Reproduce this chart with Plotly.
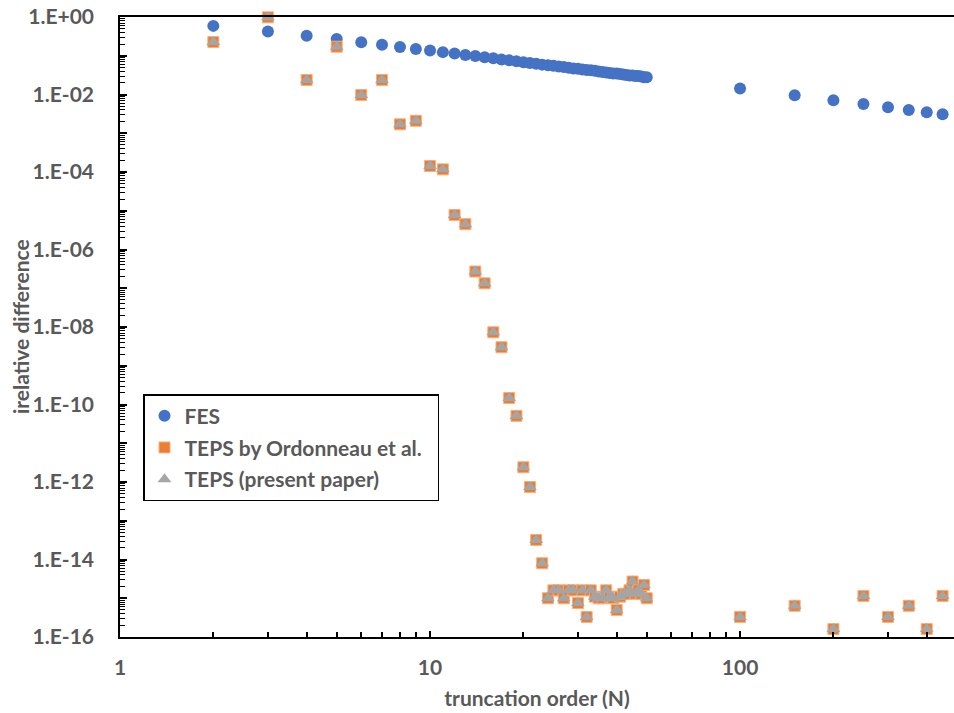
import plotly.graph_objects as go

# Truncation orders
n_low = list(range(2, 51))
n_high = [100, 150, 200, 250, 300, 350, 400, 450, 500]

# FES relative difference
fes_low = [0.59, 0.42, 0.33, 0.27, 0.222, 0.193, 0.168, 0.150, 0.137, 0.124,
           0.114, 0.105, 0.098, 0.091, 0.086, 0.080, 0.076, 0.072, 0.068, 0.065,
           0.062, 0.059, 0.057, 0.055, 0.053, 0.051, 0.049, 0.047, 0.046, 0.044,
           0.043, 0.042, 0.041, 0.039, 0.038, 0.037, 0.036, 0.035, 0.035, 0.034,
           0.033, 0.032, 0.031, 0.031, 0.030, 0.030, 0.029, 0.028, 0.028]
fes_high = [0.0142, 0.0095, 0.0071, 0.0057, 0.0047, 0.0040, 0.0035, 0.0031, 0.0028]

# TEPS relative difference (Ordonneau et al. and present paper coincide)
teps_low = [0.226, 0.98, 0.0237, 0.171, 0.0097, 0.0237, 0.0017, 0.0021, 1.43e-4, 1.17e-4,
            7.8e-6, 4.5e-6, 2.7e-7, 1.34e-7, 7.3e-9, 3.0e-9, 1.47e-10, 5.1e-11, 2.4e-12, 7.4e-13,
            3.2e-14, 8.0e-15, 1.0e-15, 1.6e-15, 1.6e-15, 1.0e-15, 1.6e-15, 1.6e-15, 7.5e-16, 1.6e-15,
            3.3e-16, 1.6e-15, 1.1e-15, 1.0e-15, 1.0e-15, 1.6e-15, 1.1e-15, 1.0e-15, 5.0e-16, 1.1e-15,
            1.3e-15, 1.3e-15, 1.6e-15, 2.7e-15, 1.3e-15, 1.6e-15, 1.3e-15, 2.2e-15, 1.0e-15]
teps_high = [3.3e-16, 6.4e-16, 1.6e-16, 1.15e-15, 3.3e-16, 6.4e-16, 1.6e-16, 1.15e-15, 3.3e-16]

n_all = n_low + n_high
fes_all = fes_low + fes_high
teps_all = teps_low + teps_high

TEXT = "#595959"
FONT = "Lato, DejaVu Sans"
NBSP = "\u00a0"

fig = go.Figure()
fig.add_trace(go.Scatter(
    x=n_all, y=fes_all, mode="markers", name="FES", cliponaxis=False, legendgroup="a",
    marker=dict(symbol="circle", size=12, color="#4472C4", line=dict(width=0)),
))
fig.add_trace(go.Scatter(
    x=n_all, y=teps_all, mode="markers", name="TEPS by Ordonneau et al." + NBSP * 2,
    cliponaxis=False, legendgroup="b",
    marker=dict(symbol="square", size=11, color="#ED7D31", line=dict(width=1, color="#F4B183")),
))
fig.add_trace(go.Scatter(
    x=n_all, y=teps_all, mode="markers", name="TEPS (present paper)", cliponaxis=False,
    legendgroup="c",
    marker=dict(symbol="triangle-up", size=12, color="#A5A5A5", line=dict(width=0)),
))

y_major = [10.0 ** (-k) for k in range(0, 17)]
y_text = [("1.E+00" if k == 0 else f"1.E-{k:02d}") if k % 2 == 0 else "" for k in range(0, 17)]
y_minor = [m * 10.0 ** (-k) for k in range(1, 17) for m in range(2, 10)]

x_major = [1, 10, 100]
x_text = ["1", "10", "100"]
x_minor = [m * d for d in (1, 10, 100) for m in range(2, 10)]

fig.update_layout(
    width=954, height=713,
    margin=dict(l=120, r=0, t=17, b=76),
    paper_bgcolor="white", plot_bgcolor="white",
    font=dict(family=FONT, color=TEXT, size=21, weight="bold"),
    showlegend=True,
    legend=dict(
        x=(143 - 120) / 834, y=(637 - 394) / 620, xanchor="left", yanchor="top",
        bgcolor="white", bordercolor="black", borderwidth=1.5,
        font=dict(family=FONT, color=TEXT, size=21, weight="bold"),
        itemwidth=30, tracegroupgap=1.5,
    ),
    xaxis=dict(
        type="log", range=[0, 2.69],
        showgrid=False, zeroline=False,
        showline=True, linecolor="black", linewidth=1.5, mirror=True,
        tickmode="array", tickvals=x_major, ticktext=x_text,
        ticks="inside", ticklen=6, tickwidth=1.5, tickcolor="black",
        ticklabelstandoff=11,
        tickfont=dict(family=FONT, color=TEXT, size=21, weight="bold"),
        minor=dict(tickvals=x_minor, ticks="inside", ticklen=5, tickwidth=1.5, tickcolor="black"),
        title=dict(text="truncation order (N)", standoff=13,
                   font=dict(family=FONT, color=TEXT, size=21, weight="bold")),
    ),
    yaxis=dict(
        type="log", range=[-16, 0],
        showgrid=False, zeroline=False,
        showline=True, linecolor="black", linewidth=1.5, mirror=False,
        tickmode="array", tickvals=y_major, ticktext=y_text,
        ticks="inside", ticklen=7, tickwidth=1.5, tickcolor="black",
        ticklabelstandoff=20,
        tickfont=dict(family=FONT, color=TEXT, size=21, weight="bold"),
        minor=dict(tickvals=y_minor, ticks="inside", ticklen=5, tickwidth=1, tickcolor="black"),
    ),
    annotations=[dict(
        text="irelative difference", textangle=-90,
        xref="paper", yref="paper", x=(20 - 120) / 834, y=0.5,
        xanchor="center", yanchor="middle", showarrow=False,
        font=dict(family=FONT, color=TEXT, size=21, weight="bold"),
    )],
)

fig.write_html("out.html")
